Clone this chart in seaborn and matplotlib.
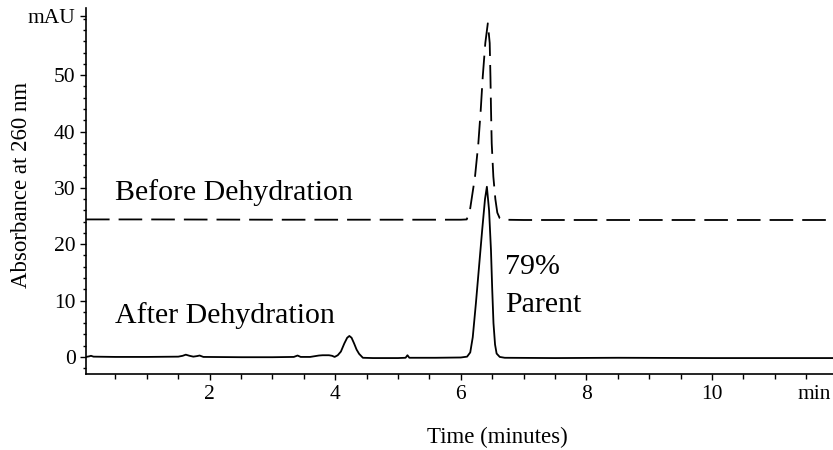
import matplotlib
matplotlib.use("Agg")
import matplotlib.pyplot as plt
import numpy as np
import pandas as pd
import seaborn as sns
from matplotlib.ticker import MultipleLocator

# ---- data ----
t_after = [0.03, 0.08, 0.11, 0.15, 0.5, 1.0, 1.5, 1.57, 1.62, 1.68, 1.74, 1.8, 1.84, 1.9,
           2.5, 3.0, 3.34, 3.40, 3.45, 3.6, 3.74, 3.80, 3.90, 3.95, 3.99, 4.04, 4.09,
           4.145, 4.19, 4.225, 4.26, 4.30, 4.34, 4.38, 4.44, 4.6, 5.0, 5.12, 5.15,
           5.18, 5.6, 6.0, 6.10, 6.15, 6.19, 6.24, 6.29, 6.34, 6.385, 6.415, 6.45,
           6.48, 6.50, 6.52, 6.545, 6.57, 6.62, 6.7, 7.5, 8.5, 10.0, 11.0, 11.93]
a_after = [0.0, 0.1, 0.2, 0.05, 0.0, 0.0, 0.05, 0.2, 0.4, 0.2, 0.05, 0.15, 0.25, 0.0,
           -0.05, -0.05, 0.0, 0.25, 0.0, 0.0, 0.25, 0.3, 0.3, 0.2, 0.0, 0.3, 0.95,
           2.4, 3.4, 3.72, 3.4, 2.4, 1.3, 0.55, -0.15, -0.2, -0.2, -0.15, 0.3,
           -0.15, -0.15, -0.1, 0.05, 0.8, 3.5, 9.5, 16.0, 22.5, 28.0, 30.2, 26.0,
           19.0, 12.0, 6.0, 2.2, 0.6, 0.0, -0.15, -0.2, -0.15, -0.2, -0.2, -0.2]

t_before = [0.03, 1.0, 3.0, 5.0, 6.0, 6.094, 6.146, 6.226, 6.279, 6.317, 6.349, 6.390,
            6.430, 6.460, 6.472, 6.481, 6.492, 6.518, 6.55, 6.581, 6.62, 6.66, 7.0,
            9.0, 11.93]
a_before = [24.4, 24.4, 24.35, 24.35, 24.35, 24.4, 26.1, 32.0, 37.9, 43.8, 49.7, 55.7,
            59.2, 55.7, 49.6, 43.8, 37.9, 32.0, 28.0, 25.6, 24.6, 24.35, 24.3,
            24.3, 24.3]

x_major = [2, 4, 6, 8, 10]
x_labels = ["2", "4", "6", "8", "10"]
y_major = [0, 10, 20, 30, 40, 50, 60.5]
y_labels = ["0", "10", "20", "30", "40", "50", "mAU"]

notes = ["Before Dehydration", "After Dehydration", "79%", "Parent"]
note_t = [0.49, 0.49, 6.70, 6.70]
note_a = [29.1, 7.3, 16.0, 9.2]

# ---- styling ----
sns.set_theme(style="ticks")
plt.rcParams["font.family"] = ["Liberation Serif", "DejaVu Serif"]
plt.rcParams["lines.scale_dashes"] = False

fig = plt.figure(figsize=(8.33, 4.5), dpi=100)
ax = fig.add_axes([0.1032, 0.168, 0.897, 0.814])

sns.lineplot(x=t_after, y=a_after, color="black", lw=1.3, estimator=None,
             sort=False, ax=ax)
sns.lineplot(x=t_before, y=a_before, color="black", lw=1.3, estimator=None,
             sort=False, ax=ax, linestyle=(0, (17, 6.5)))

ax.set_xlim(0.03, 11.93)
ax.set_ylim(-3.1, 61.9)

sns.despine(ax=ax, top=True, right=True)
for s in ("left", "bottom"):
    ax.spines[s].set_linewidth(1.2)
    ax.spines[s].set_color("black")

ax.set_xticks(x_major + [11.63])
ax.set_xticklabels(x_labels + ["min"])
ax.xaxis.get_major_ticks()[-1].tick1line.set_visible(False)
ax.xaxis.set_minor_locator(MultipleLocator(0.5))
ax.set_yticks(y_major)
ax.set_yticklabels(y_labels)
ax.yaxis.set_minor_locator(MultipleLocator(2))

ax.tick_params(axis="both", which="major", direction="out", length=4.5, width=1.0,
               colors="black", labelsize=15.5, pad=3)
ax.tick_params(axis="x", which="minor", direction="out", length=3.5, width=1.0,
               colors="black")
ax.tick_params(axis="y", which="minor", direction="out", length=2, width=1.0,
               colors="black")

ax.set_xlabel("Time (minutes)", fontsize=16.5, color="black")
ax.xaxis.set_label_coords(0.55, -0.172)
ax.xaxis.label.set_va("center")
ax.set_ylabel("Absorbance at 260 nm", fontsize=16.5, color="black")
ax.yaxis.set_label_coords(-0.0857, 0.517)
ax.yaxis.label.set_va("center")

for txt, tx, ty in zip(notes, note_t, note_a):
    ax.text(tx, ty, txt, fontsize=21.5, ha="left", va="center", color="black")

fig.savefig("out.png", dpi=100)
